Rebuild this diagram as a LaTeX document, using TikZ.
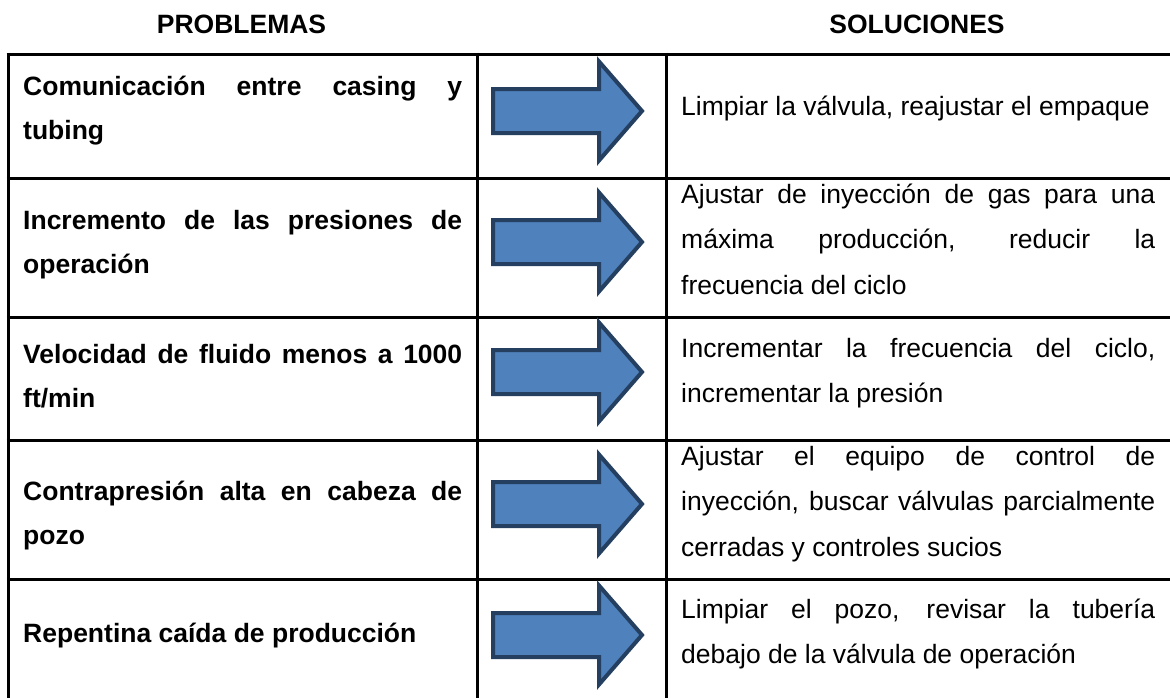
\documentclass[tikz,border=0pt]{standalone}
\usepackage{fontspec}
\setmainfont{Liberation Sans}
\definecolor{arrowfill}{HTML}{4F81BD}
\definecolor{arrowline}{HTML}{243F60}
\newcommand\nohyph{\hyphenpenalty=10000 \exhyphenpenalty=10000 \tolerance=10000 \hbadness=10000 }
\newcommand\bluearrow[2]{%
  \coordinate (#1) at (568,#2);
  \draw[bigarrow] ([shift={(-75,-22)}]#1) -- ([shift={(31,-22)}]#1) -- ([shift={(31,-49.5)}]#1)
    -- ([shift={(74,0)}]#1) -- ([shift={(31,49.5)}]#1) -- ([shift={(31,22)}]#1)
    -- ([shift={(-75,22)}]#1) -- cycle;}
\tikzset{
  prob/.style={anchor=base west, inner sep=0pt, text width=439pt, align=justify,
    font=\bfseries\fontsize{26.5}{44}\selectfont\nohyph},
  sol/.style={anchor=base west, inner sep=0pt, text width=474pt, align=justify,
    font=\fontsize{26.5}{45.7}\selectfont\nohyph},
  hdr/.style={anchor=base, inner sep=0pt, font=\bfseries\fontsize{26.5}{30}\selectfont},
  gridline/.style={line width=3pt, black},
  bigarrow/.style={fill=arrowfill, draw=arrowline, line width=4pt, line join=miter},
}
\begin{document}
\begin{tikzpicture}[x=1pt, y=-1pt]
\useasboundingbox (0,0) rectangle (1170,697);
\clip (0,0) rectangle (1170,697);
\fill[white] (0,0) rectangle (1170,697);
% headers
\node[hdr] (h1) at (241.5,33) {PROBLEMAS};
\node[hdr] (h2) at (917,33) {SOLUCIONES};
% grid
\foreach \yy in {54,178,317,440,579} \draw[gridline] (6.5,\yy) -- (1175,\yy);
\foreach \xx in {8,477,666} \draw[gridline] (\xx,52.5) -- (\xx,705);
% arrows
\bluearrow{a1}{111}
\bluearrow{a2}{242}
\bluearrow{a3}{372}
\bluearrow{a4}{504}
\bluearrow{a5}{635}
% problems
\node[prob] (p1) at (23,95) {Comunicación entre casing y\linebreak tubing};
\node[prob] (p2) at (23,229) {Incremento de las presiones de\linebreak operación};
\node[prob] (p3) at (23,363) {Velocidad de fluido menos a 1000\linebreak ft/min};
\node[prob] (p4) at (23,500) {Contrapresión alta en cabeza de\linebreak pozo};
\node[prob] (p5) at (23,642) {Repentina caída de producción};
% solutions
\node[sol] (s1) at (681,115) {Limpiar la válvula, reajustar el empaque};
\node[sol] (s2) at (681,203) {Ajustar de inyección de gas para una\linebreak máxima producción, reducir la\linebreak frecuencia del ciclo};
\node[sol] (s3) at (681,357) {Incrementar la frecuencia del ciclo,\linebreak incrementar la presión};
\node[sol] (s4) at (681,465) {Ajustar el equipo de control de\linebreak inyección, buscar válvulas parcialmente\linebreak cerradas y controles sucios};
\node[sol] (s5) at (681,618) {Limpiar el pozo, revisar la tubería\linebreak debajo de la válvula de operación};
\end{tikzpicture}
\end{document}
